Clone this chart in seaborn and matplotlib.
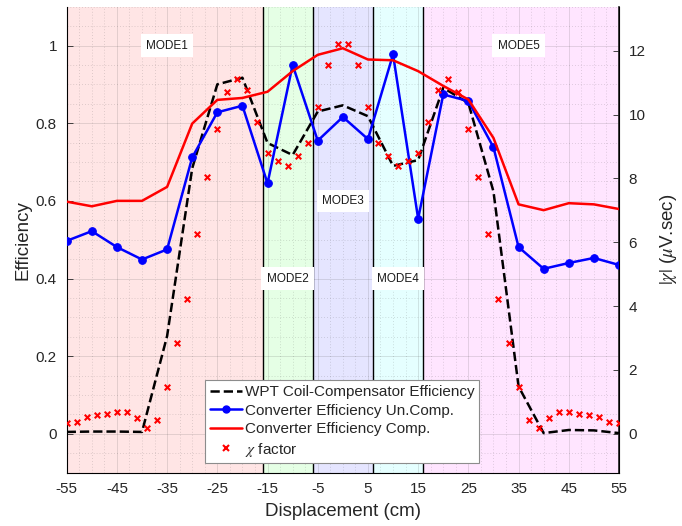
import matplotlib
matplotlib.use("Agg")
import matplotlib.pyplot as plt
import seaborn as sns
from matplotlib.lines import Line2D
from matplotlib.ticker import MultipleLocator

# Lateral displacement of the receiver coil (cm), 5 cm steps
displacement = [-55, -50, -45, -40, -35, -30, -25, -20, -15, -10, -5, 0,
                5, 10, 15, 20, 25, 30, 35, 40, 45, 50, 55]

# WPT coil-compensator efficiency
wpt_eff = [0.005, 0.006, 0.006, 0.005, 0.252, 0.684, 0.900, 0.917, 0.749, 0.718,
           0.830, 0.846, 0.818, 0.690, 0.705, 0.891, 0.852, 0.624, 0.122, 0.002,
           0.010, 0.009, 0.002]

# Converter efficiency without compensation
conv_uncomp = [0.497, 0.522, 0.481, 0.449, 0.475, 0.712, 0.828, 0.845, 0.645, 0.950,
               0.755, 0.816, 0.759, 0.977, 0.554, 0.874, 0.857, 0.738, 0.481, 0.425,
               0.440, 0.453, 0.435]

# Converter efficiency with compensation
conv_comp = [0.598, 0.586, 0.600, 0.600, 0.636, 0.799, 0.860, 0.865, 0.881, 0.934,
             0.976, 0.993, 0.964, 0.962, 0.934, 0.896, 0.861, 0.762, 0.591, 0.576,
             0.594, 0.591, 0.579]

# chi factor (uV.sec), sampled every 2 cm
chi_pos = list(range(-55, 56, 2))
chi_factor = [0.34, 0.37, 0.53, 0.58, 0.62, 0.67, 0.67, 0.49, 0.17, 0.44,
              1.47, 2.83, 4.22, 6.27, 8.04, 9.54, 10.70, 11.12, 10.78, 9.76,
              8.79, 8.53, 8.40, 8.71, 9.12, 10.24, 11.54, 12.22,
              12.22, 11.54, 10.24, 9.12, 8.71, 8.40, 8.53, 8.79, 9.76, 10.78,
              11.12, 10.70, 9.54, 8.04, 6.27, 4.22, 2.83, 1.47, 0.44, 0.17,
              0.49, 0.67, 0.67, 0.62, 0.58, 0.53, 0.37, 0.34]

# Operating modes
mode_names = ["MODE1", "MODE2", "MODE3", "MODE4", "MODE5"]
mode_edges = [-55, -16, -6, 6, 16, 55]
mode_colors = ["red", "lime", "blue", "cyan", "magenta"]
mode_label_x = [-35, -11, 0, 11, 35]
mode_label_y = [1.0, 0.4, 0.6, 0.4, 1.0]

x_ticks = list(range(-55, 56, 10))
eff_ticks = [0, 0.2, 0.4, 0.6, 0.8, 1]
eff_tick_labels = ["0", "0.2", "0.4", "0.6", "0.8", "1"]
chi_ticks = [0, 2, 4, 6, 8, 10, 12]

legend_labels = ["WPT Coil-Compensator Efficiency",
                 "Converter Efficiency Un.Comp.",
                 "Converter Efficiency Comp.",
                 r"$\chi$ factor"]

sns.set_theme(style="white")
plt.rcParams["font.family"] = ["Liberation Sans", "DejaVu Sans"]
plt.rcParams["axes.unicode_minus"] = False
plt.rcParams["mathtext.fontset"] = "stix"

fig = plt.figure(figsize=(6.82, 5.26), dpi=100)
ax = fig.add_axes([0.0978, 0.1013, 0.8098, 0.886])

# shaded mode regions and boundaries
for i, name in enumerate(mode_names):
    ax.axvspan(mode_edges[i], mode_edges[i + 1], color=mode_colors[i],
               alpha=0.1, lw=0, zorder=0.2)
for edge in mode_edges[1:-1]:
    ax.axvline(edge, color="black", lw=1.0, zorder=1.2)

sns.lineplot(x=displacement, y=wpt_eff, ax=ax, color="black",
             linestyle="--", lw=1.8, zorder=3)
sns.lineplot(x=displacement, y=conv_uncomp, ax=ax, color="blue", lw=1.8,
             marker="o", markersize=5.5, markeredgecolor="blue", zorder=3)
sns.lineplot(x=displacement, y=conv_comp, ax=ax, color="red", lw=1.8, zorder=3)

for name, mx, my in zip(mode_names, mode_label_x, mode_label_y):
    ax.text(mx, my, name, ha="center", va="center", fontsize=8.5, color="#1a1a1a",
            zorder=2,
            bbox=dict(facecolor="white", edgecolor="none",
                      boxstyle="square,pad=0.45"))

ax.set_xlim(-55, 55)
ax.set_ylim(-0.1, 1.1)
ax.set_xticks(x_ticks)
ax.set_yticks(eff_ticks)
ax.set_yticklabels(eff_tick_labels)
ax.xaxis.set_minor_locator(MultipleLocator(2.5))
ax.yaxis.set_minor_locator(MultipleLocator(0.05))
ax.set_axisbelow(True)
ax.grid(which="major", color="#262626", alpha=0.15, lw=0.6, ls="-")
ax.grid(which="minor", color="#262626", alpha=0.2, lw=0.6, ls=(0, (1, 2.5)))
ax.tick_params(axis="both", which="major", direction="in", length=4,
               labelsize=11, colors="#262626", pad=7, width=0.6)
ax.tick_params(axis="both", which="minor", length=0)
ax.set_xlabel("Displacement (cm)", fontsize=13.5, color="#262626", labelpad=5)
ax.set_ylabel("Efficiency", fontsize=13.5, color="#262626", labelpad=3)
ax.spines["top"].set_visible(False)
for side in ["left", "bottom"]:
    ax.spines[side].set_color("black")
    ax.spines[side].set_linewidth(0.8)

ax2 = ax.twinx()
sns.scatterplot(x=chi_pos, y=chi_factor, ax=ax2, marker="x", color="red",
                s=16, linewidth=1.5, zorder=4)
ax2.set_ylim(-1.22, 13.38)
ax2.set_yticks(chi_ticks)
ax2.tick_params(axis="y", direction="in", length=4, labelsize=11,
                colors="#262626", pad=7, width=0.6)
ax2.set_ylabel(r"$|\chi|$ ($\mu$V.sec)", fontsize=13.5, color="#262626",
               rotation=90, labelpad=9)
ax2.spines["top"].set_visible(False)
ax2.spines["left"].set_visible(False)
ax2.spines["bottom"].set_visible(False)
ax2.spines["right"].set_color("black")
ax2.spines["right"].set_linewidth(0.8)

handles = [
    Line2D([], [], color="black", ls="--", lw=1.8),
    Line2D([], [], color="blue", lw=1.8, marker="o", markersize=5),
    Line2D([], [], color="red", lw=1.8),
    Line2D([], [], color="red", ls="", marker="x", markersize=4, mew=1.5),
]
leg = ax2.legend(handles, legend_labels, loc="lower left",
                 bbox_to_anchor=(0.2504, 0.020), borderaxespad=0,
                 fontsize=11, frameon=True, fancybox=False, framealpha=1,
                 edgecolor="#8c8c8c", handlelength=2.1, handletextpad=0.2,
                 labelspacing=0.3, borderpad=0.3)
leg.get_frame().set_linewidth(0.8)
leg.set_zorder(10)

fig.savefig("out.png", dpi=100)
